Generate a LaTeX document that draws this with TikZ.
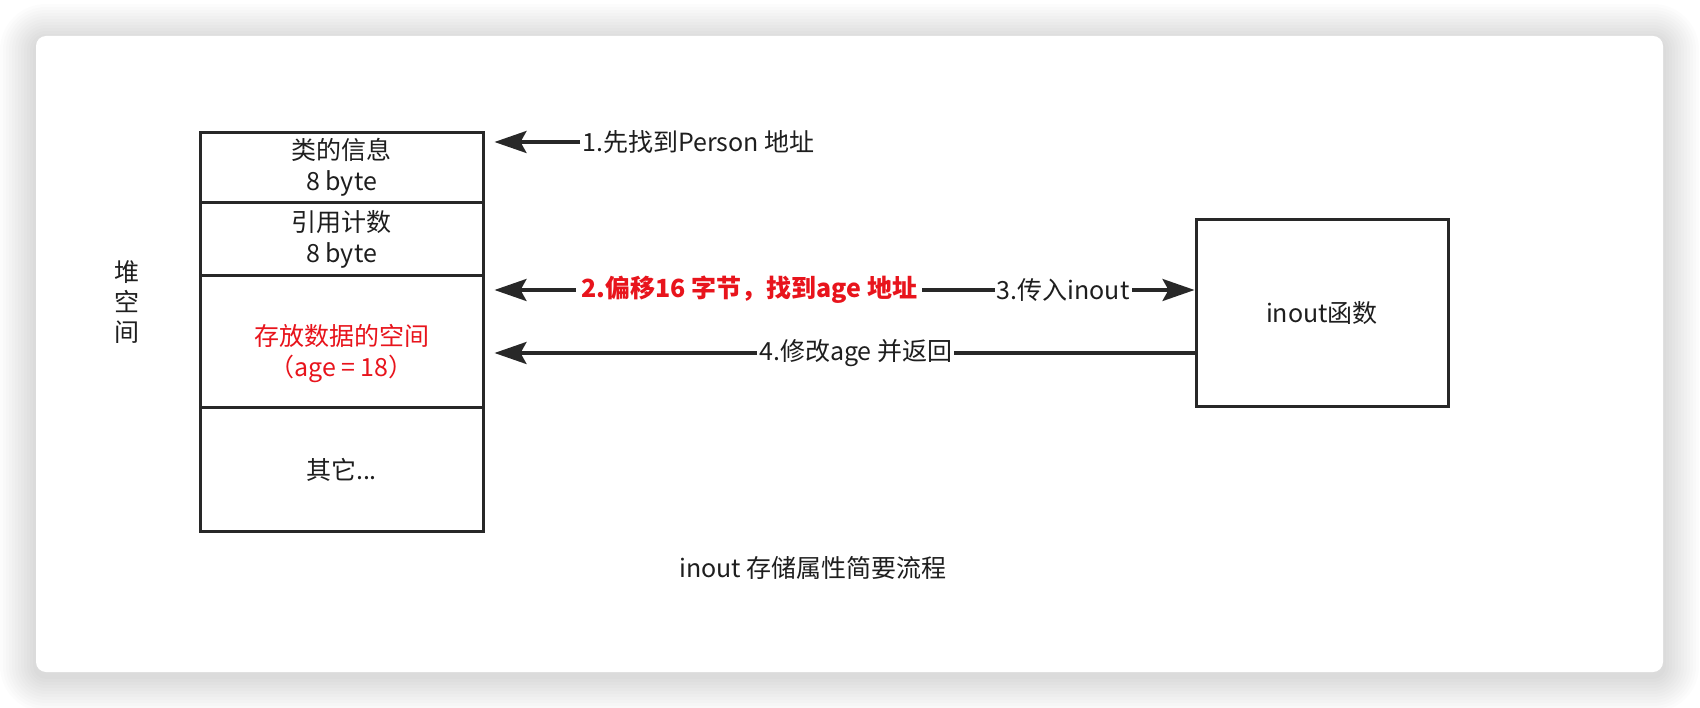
\documentclass[tikz,border=0pt]{standalone}
\usepackage{fontspec}
\setmainfont{Noto Sans CJK SC}
\usepackage{tikz}
\usetikzlibrary{positioning,arrows.meta,calc}

\definecolor{ink}{RGB}{30,30,30}
\definecolor{edge}{RGB}{40,40,40}
\definecolor{hot}{RGB}{232,20,28}

\begin{document}
\begin{tikzpicture}[
  x=1pt,y=-1pt,
  cell/.style={rectangle,draw=edge,line width=3pt,minimum width=283pt,minimum height=#1,inner sep=0pt,align=center,text=ink,font=\fontsize{25}{31}\selectfont},
  cell/.default=70pt,
  fnbox/.style={rectangle,draw=edge,line width=3pt,minimum width=252pt,minimum height=187pt,inner sep=0pt,text=ink,font=\fontsize{25}{31}\selectfont},
  arr/.style={->,>={Stealth[length=32pt,width=22pt,inset=6pt]},line width=3.3pt,draw=edge},
  tag/.style={font=\fontsize{25}{31}\selectfont,text=ink,fill=white,inner xsep=2pt,inner ysep=1pt},
  hottag/.style={tag,text=hot,inner xsep=5pt,font=\fontsize{25}{31}\selectfont\bfseries},
]
\useasboundingbox (0,0) rectangle (1700,708);

% === Card with soft shadow ===
\foreach \i [evaluate=\i as \r using 10+3*\i] in {1,...,12}
  \fill[black,opacity=0.013,rounded corners=\r pt] ({36-3*\i},{40-3*\i}) rectangle ({1663+3*\i},{676+3*\i});
\fill[white,rounded corners=10pt] (36,36) rectangle (1663,672);

% === LEFT: heap layout ===
\node[font=\fontsize{25}{30}\selectfont,text=ink,align=center] (heap) at (127,302) {堆\\空\\间};

\node[cell=70.5pt] (klass) at (341.5,167.75) {类的信息\\8 byte};
\node[cell=73pt] (refcnt) at (341.5,239.5) {引用计数\\8 byte};
\node[cell=132pt] (data) at (341.5,342) {};
\node[text=hot,align=center,font=\fontsize{25}{31}\selectfont] (datatxt) at (341.5,354) {存放数据的空间\\（age = 18）};
\node[cell=123pt] (other) at (341.5,469.5) {其它...};

% === RIGHT: function ===
\node[fnbox] (inout) at (1322,313.5) {inout函数};

% === Step 1 ===
\node[tag,anchor=west] (step1) at (580,142) {1.先找到Person 地址};
\draw[arr] (step1.west) -- ($(klass.east |- step1.west)+(10,0)$);

% === Steps 2 and 3 ===
\coordinate (split) at (960,290);
\draw[arr] (split) -- node[hottag,pos=0.453] (step2) {2.偏移16 字节，找到age 地址} ($(data.east |- split)+(10,0)$);
\draw[arr] (split) -- node[tag,pos=0.44] (step3) {3.传入inout} (inout.west |- split);

% === Step 4 ===
\coordinate (back) at ($(inout.west)+(0,39.5)$);
\draw[arr] (back) -- node[tag,pos=0.484] (step4) {4.修改age 并返回} ($(data.east |- back)+(10,0)$);

% === Caption ===
\node[font=\fontsize{25}{31}\selectfont,text=ink] (caption) at (813,568) {inout 存储属性简要流程};

\end{tikzpicture}
\end{document}
